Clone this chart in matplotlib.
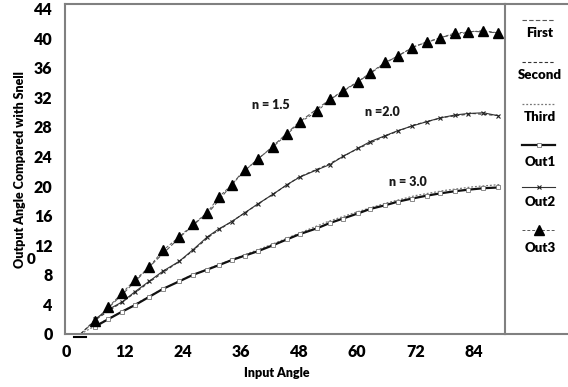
import matplotlib
matplotlib.use('Agg')
import matplotlib.pyplot as plt
from matplotlib.lines import Line2D

plt.rcParams['font.family'] = ['Lato', 'DejaVu Sans']
plt.rcParams['font.weight'] = 'bold'

# ---- data ----
x_grid = [6.0, 8.7, 11.5, 14.2, 17.1, 20.0, 23.3, 26.2, 29.1, 31.5, 34.2, 36.9, 39.6,
          42.7, 45.6, 48.2, 51.8, 54.4, 57.1, 60.2, 62.7, 65.8, 68.5, 71.3, 74.4,
          77.1, 80.2, 82.9, 86.0, 89.1]
out3 = [1.75, 3.6, 5.5, 7.3, 9.0, 11.3, 13.1, 14.8, 16.4, 18.5, 20.2, 22.1, 23.7,
        25.3, 27.0, 28.6, 30.1, 31.7, 32.9, 34.1, 35.3, 36.7, 37.6, 38.7, 39.5,
        40.0, 40.7, 40.8, 41.0, 40.7]
out2 = [2.0, 3.3, 4.3, 5.7, 7.1, 8.5, 9.8, 11.4, 13.1, 14.2, 15.2, 16.4, 17.6,
        18.9, 20.2, 21.2, 22.2, 22.9, 24.0, 25.1, 26.0, 26.8, 27.5, 28.1, 28.7,
        29.2, 29.6, 29.8, 29.9, 29.5]
out1 = [1.0, 2.0, 3.0, 3.9, 5.0, 6.1, 7.1, 8.0, 8.7, 9.3, 10.0, 10.6, 11.2,
        12.0, 12.8, 13.5, 14.3, 15.0, 15.6, 16.3, 16.9, 17.4, 17.9, 18.3, 18.7,
        19.0, 19.3, 19.5, 19.7, 19.8]

theory_x = [3.0, 6.0, 12.0, 18.0, 24.0, 30.0, 36.0, 42.0, 48.0, 54.0, 60.0, 66.0,
            72.0, 78.0, 84.0, 89.5]
first = [0.0, 1.8, 5.6, 9.6, 13.4, 16.9, 21.6, 25.0, 28.6, 31.5, 34.0, 36.7,
         38.9, 40.2, 40.9, 40.7]
second = [0.0, 1.9, 4.5, 7.4, 10.1, 13.4, 16.0, 18.6, 21.2, 22.9, 25.0, 26.8,
          28.3, 29.3, 29.8, 29.5]
third = [0.0, 1.1, 3.2, 5.4, 7.4, 9.0, 10.5, 12.0, 13.6, 15.2, 16.5, 17.7,
         18.7, 19.4, 19.9, 20.2]

labels = ['First', 'Second', 'Third', 'Out1', 'Out2', 'Out3']
annot_text = ['n = 1.5', 'n =2.0', 'n = 3.0']
annot_x = [42.3, 65.2, 70.5]
annot_y = [30.9, 30.05, 20.6]
x_ticks = [0, 12, 24, 36, 48, 60, 72, 84]
y_ticks = [0, 4, 8, 12, 16, 20, 24, 28, 32, 36, 40, 44]

# ---- figure ----
W, H = 568, 387
fig = plt.figure(figsize=(W / 100, H / 100), dpi=100)
fig.patch.set_facecolor('white')

def fx(px):
    return px / W

def fy(py):
    return 1 - py / H

ax = fig.add_axes([fx(65), fy(334), fx(505) - fx(65), fy(4) - fy(334)])

styles = [
    dict(color='#555555', lw=0.8, ls=(0, (4, 2)), marker=None),
    dict(color='#333333', lw=0.8, ls=(0, (3, 2)), marker=None),
    dict(color='#777777', lw=0.9, ls=(0, (1.5, 1.5)), marker=None),
    dict(color='#111111', lw=1.6, ls='-', marker='s', ms=3, mfc='white', mec='#777777', mew=0.6),
    dict(color='#333333', lw=0.8, ls='-', marker='x', ms=3.5, mec='#222222', mew=0.8),
    dict(color='#555555', lw=0.7, ls=(0, (3, 2)), marker='^', ms=7, mfc='black', mec='black'),
]

ax.plot(theory_x, first, **styles[0])
ax.plot(theory_x, second, **styles[1])
ax.plot(theory_x, third, **styles[2])
ax.plot(x_grid, out1, **styles[3])
ax.plot(x_grid, out2, **styles[4])
ax.plot(x_grid, out3, **styles[5])

for t, xx, yy in zip(annot_text, annot_x, annot_y):
    ax.text(xx, yy, t, ha='center', va='center', fontsize=9, fontweight='heavy', color='#1a1a1a')

ax.set_xlim(-0.2, 90.5)
ax.set_ylim(0, 44.6)
ax.set_xticks(x_ticks)
ax.set_yticks(y_ticks)
ax.tick_params(axis='both', length=0, labelsize=11.5)
ax.tick_params(axis='y', pad=9)
ax.tick_params(axis='x', pad=7)
for lab in ax.get_xticklabels() + ax.get_yticklabels():
    lab.set_fontweight('heavy')
for s in ax.spines.values():
    s.set_color('#808080')
    s.set_linewidth(1.5)

# extension of the frame around the legend area
fig.add_artist(Line2D([fx(505), fx(568)], [fy(4), fy(4)], color='#808080', lw=1.5))
fig.add_artist(Line2D([fx(505), fx(568)], [fy(334), fy(334)], color='#808080', lw=1.5))

# axis titles
fig.text(fx(277), fy(373), 'Input Angle', ha='center', va='center', fontsize=9, fontweight='heavy')
fig.text(fx(20), fy(170), 'Output Angle Compared with Snell', ha='center', va='center',
         rotation=90, fontsize=9, fontweight='heavy')
# stray marks in the original
fig.text(fx(31.5), fy(259), '0', ha='center', va='center', fontsize=11, fontweight='heavy')
fig.add_artist(Line2D([fx(74), fx(86)], [fy(337), fy(337)], color='black', lw=1.5))

# manual legend (handle above, label below)
handle_y = [20, 62, 104, 145, 187, 230]
label_y = [33, 75, 117, 162, 202, 248]
for i, lab in enumerate(labels):
    st = dict(styles[i])
    ln = Line2D([fx(522), fx(555)], [fy(handle_y[i]), fy(handle_y[i])],
                color=st.pop('color'), lw=st.pop('lw'), ls=st.pop('ls'))
    fig.add_artist(ln)
    mk = st.pop('marker')
    if mk is not None:
        fig.add_artist(Line2D([fx(538.5)], [fy(handle_y[i])], marker=mk, ls='none', **st))
    fig.text(fx(540), fy(label_y[i]), lab, ha='center', va='center', fontsize=9.5, fontweight='heavy')

fig.savefig('out.png', dpi=100, facecolor='white')
